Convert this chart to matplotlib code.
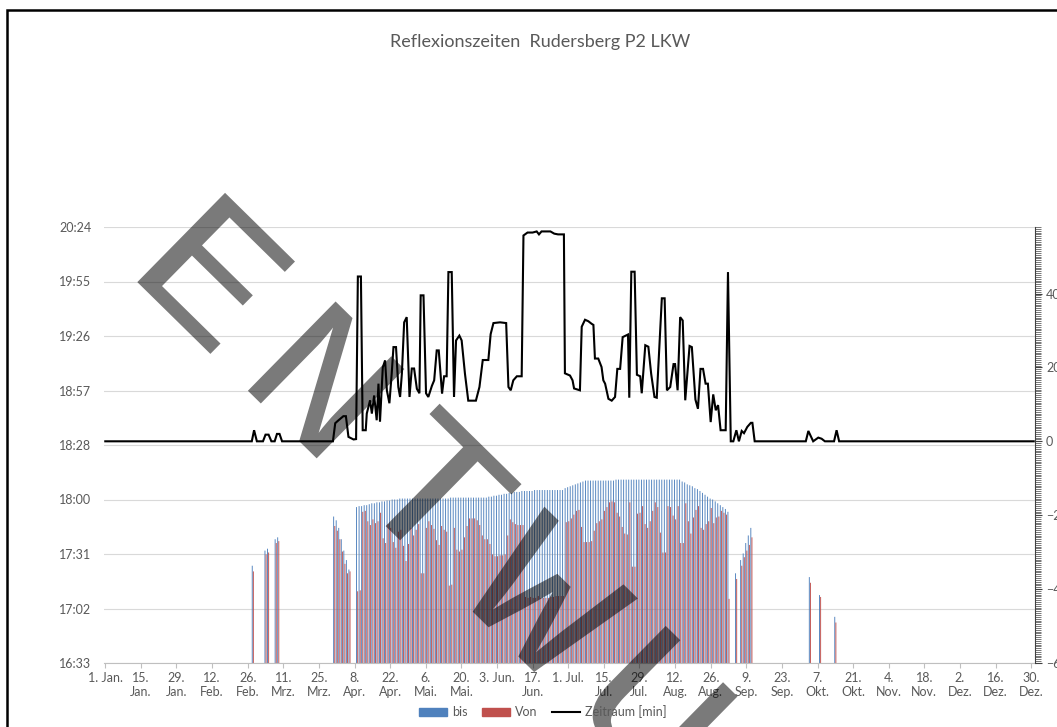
import matplotlib
matplotlib.use("Agg")
import matplotlib.pyplot as plt
from matplotlib.patches import Patch, Rectangle, PathPatch
from matplotlib.lines import Line2D
from matplotlib.textpath import TextPath
from matplotlib.font_manager import FontProperties
from matplotlib.transforms import Affine2D
from matplotlib.ticker import FixedLocator, MultipleLocator, FuncFormatter

plt.rcParams["font.family"] = ["Lato", "DejaVu Sans"]

GRAU = "#595959"
BLAU = "#4F81BD"
ROT = "#C0504D"

# Tage ab 1. Jan. (Schaltjahr) mit Reflexion
tage = ([58, 63, 64, 67, 68] + list(range(90, 97)) + list(range(99, 246))
        + [248, 250, 251, 252, 253, 254, 277, 281, 287])

# Ende der Reflexion, Minuten nach Mitternacht
bis = [
    1045, 1053, 1054, 1059, 1060,
    1071, 1069, 1065, 1059, 1053, 1048, 1043,
    1076, 1076.5, 1076.5, 1077, 1077, 1077.5, 1078, 1078, 1078.5, 1078.5,          # 99-108
    1079, 1079, 1079.5, 1079.5, 1080, 1080, 1080, 1080.5, 1080.5, 1080.5,          # 109-118
    1080.5, 1080.5, 1080.5, 1080.5, 1080.5, 1080.5, 1080.5, 1080.5, 1080.5, 1080.5,  # 119-128
    1080.5, 1080.5, 1080.5, 1080.5, 1080.5, 1080.5, 1080.5, 1081, 1081, 1081,      # 129-138
    1081, 1081, 1081, 1081, 1081, 1081, 1081, 1081, 1081, 1081,                    # 139-148
    1081, 1081, 1081.5, 1081.5, 1082, 1082, 1082.5, 1082.5, 1083, 1083,            # 149-158
    1083.5, 1083.5, 1084, 1084, 1084, 1084.5, 1084.5, 1084.5, 1084.5, 1084.5,      # 159-168
    1085, 1085, 1085, 1085, 1085, 1085, 1085, 1085, 1085, 1085,                    # 169-178
    1085, 1085, 1086, 1086.5, 1087, 1087.5, 1088, 1088.5, 1089, 1089.5,            # 179-188
    1090, 1090, 1090, 1090, 1090, 1090, 1090, 1090, 1090, 1090,                    # 189-198
    1090, 1090, 1090.5, 1090.5, 1090.5, 1090.5, 1090.5, 1090.5, 1090.5, 1090.5,    # 199-208
    1090.5, 1090.5, 1090.5, 1090.5, 1090.5, 1090.5, 1090.5, 1090.5, 1090.5, 1090.5,  # 209-218
    1090.5, 1090.5, 1090.5, 1090.5, 1090.5, 1090.5, 1090.5, 1090.5, 1089.5, 1089,  # 219-228
    1088, 1087.5, 1087, 1086, 1085.5, 1084.5, 1083.5, 1082.5, 1081.5, 1080.5,      # 229-238
    1080, 1079, 1078, 1077, 1076, 1075, 1073.5,                                    # 239-245
    1041, 1048, 1051.5, 1057, 1061, 1065, 1039, 1029.5, 1018,
]

# Beginn der Reflexion, Minuten nach Mitternacht
von = [
    1042, 1051, 1052, 1057, 1058,
    1066, 1063.5, 1059, 1052.5, 1046, 1041, 1042,
    1031.5, 1032, 1073.5, 1074, 1068.5, 1066.5, 1069.5, 1067.5, 1068.5, 1073,      # 99-108
    1059.5, 1057, 1067, 1065, 1057.5, 1054.5, 1063, 1064, 1055.5, 1047.5,          # 109-118
    1056.5, 1065, 1061, 1064, 1067, 1041, 1041, 1065, 1068.5, 1066.5,              # 119-128
    1064.5, 1058.5, 1056, 1066, 1064, 1063, 1034.5, 1035, 1065, 1053.5,            # 129-138
    1052.5, 1053.5, 1060, 1066, 1070, 1070, 1070, 1069, 1066.5, 1061,              # 139-148
    1059, 1059, 1056.5, 1051, 1050, 1050, 1050.5, 1050.5, 1051, 1061,              # 149-158
    1069.5, 1068, 1067, 1066.5, 1066.5, 1066.5, 1028.5, 1028, 1028.5, 1028,        # 159-168
    1028, 1029, 1028, 1028, 1028, 1028, 1028.5, 1028.5, 1029, 1029,                # 169-178
    1029, 1029, 1068, 1068.5, 1070, 1072, 1074, 1074.5, 1065.5, 1057.5,            # 179-188
    1057.5, 1057.5, 1058, 1063.5, 1067.5, 1068.5, 1069.5, 1074, 1076, 1078.5,      # 189-198
    1079, 1078.5, 1073, 1071, 1065.5, 1062, 1061.5, 1078.5, 1044.5, 1044.5,        # 199-208
    1072.5, 1073, 1076.5, 1067, 1065, 1068.5, 1074, 1078.5, 1076, 1062.5,          # 209-218
    1052, 1052, 1076.5, 1076, 1071.5, 1069.5, 1076.5, 1057, 1057, 1078,            # 219-228
    1068.5, 1062, 1070.5, 1074.5, 1076.5, 1065, 1064, 1067, 1068.5, 1075.5,        # 229-238
    1067.5, 1070.5, 1071, 1074, 1073, 1072, 1027.5,                                # 239-245
    1038, 1045, 1049.5, 1053, 1056, 1060, 1036, 1028.5, 1015,
]

# Zeitraum [min] als Linienzug (Tag, Minuten)
zr_tag = [0, 57.6, 58.5, 59.6, 62, 63, 64.2, 65.3, 66.6, 67.5, 68.5, 69.5, 89.5,
          90.4, 91.7, 93.6, 94.6, 95.6, 97.6, 98.6, 99.3, 100.5, 101.2, 102.4,
          102.8, 104.1, 104.8, 105.7, 106.7, 107.4, 108, 109.1, 110, 110.7, 111.7,
          112.6, 113.3, 114.3, 115.2, 115.9, 116.6, 117.5, 118.5, 119.6, 120.5,
          121.4, 122.5, 123.5, 124, 125.1, 126.1, 127, 128.4, 129.3, 130.3, 131.1,
          131.9, 132.4, 133.2, 134.2, 134.9, 136.2, 137.1, 137.9, 139.2, 140.1,
          141.4, 142.7, 145.7, 147.1, 148.4, 150.6, 151.5, 152.6, 155.2, 157.6,
          158.5, 159.4, 160.4, 161.8, 163.7, 164.4, 166, 168, 169.6, 170.5, 171.5,
          175, 176.5, 178, 180.3, 180.7, 182.7, 183.7, 184.3, 186.6, 187.3, 188.6,
          189.9, 191.2, 191.9, 192.5, 193.8, 195.1, 195.8, 196.5, 197.8, 199.1,
          200.4, 201.3, 202.4, 203.4, 205.5, 206, 206.8, 208.1, 209, 210.3, 210.9,
          212.3, 213.5, 214.6, 215.9, 216.8, 218.8, 219.9, 220.8, 222.1, 223.4, 224,
          225, 226, 227, 228, 229.7, 230.6, 232, 233, 234, 235, 236, 236.9, 238,
          239, 240, 240.9, 241.9, 243.9, 244.8, 245.9, 246.9, 248.1, 249.1, 250.2,
          251.1, 252.4, 253.8, 254.4, 255.3, 275.4, 276.4, 278.3, 280.3, 281.6,
          282.9, 286.5, 287.5, 288.5, 365]
zr_min = [0, 0, 3, 0, 0, 1.8, 1.8, 0, 0, 2, 2, 0, 0,
          4.9, 5.7, 6.8, 6.8, 1.2, 0.5, 0.6, 44.6, 44.6, 3, 3,
          7.5, 11.1, 7.5, 12.4, 5.7, 15.6, 5.3, 20, 21.9, 13.8, 10.3,
          18.3, 25.5, 25.5, 14.7, 12, 18.3, 32.2, 33.6, 12, 19.7,
          19.7, 14.2, 13, 39.5, 39.5, 13, 12, 15, 16.5, 24.6, 24.6,
          17.4, 12.9, 17.6, 17.6, 45.8, 45.8, 12, 27.3, 28.6, 27.3,
          18.3, 11, 11, 14.7, 22, 22, 29, 32, 32.2, 32,
          14.7, 13.8, 16.5, 17.6, 17.6, 55.7, 56.5, 56.5, 56.8, 56, 56.8,
          56.8, 56.2, 56, 56, 18.4, 17.8, 16.5, 14.3, 13.8, 31, 32.9,
          32.5, 31.8, 31.5, 22.4, 22.4, 20.1, 16.5, 15.6, 11.5, 11,
          12, 19.6, 19.6, 28.2, 28.9, 11.8, 45.9, 45.9, 18, 17.6, 13,
          26, 25.6, 18.3, 12, 11.8, 38.7, 38.7, 13.8, 14.7, 20.9, 20.9,
          13.8, 33.6, 32.7, 11.1, 25.8, 25.5, 11.3, 8.8, 19.6, 19.6, 15.6, 15.6, 5.2,
          12.7, 8.4, 9.8, 3, 3, 45.8, 0, 0, 3, 0, 2.8,
          2.2, 3.9, 5, 5, 0, 0, 2.8, 0, 1, 0.7,
          0, 0, 3, 0, 0]

x_ticks = list(range(0, 365, 14))
x_labels = ["1. Jan.", "15.\nJan.", "29.\nJan.", "12.\nFeb.", "26.\nFeb.", "11.\nMrz.",
            "25.\nMrz.", "8.\nApr.", "22.\nApr.", "6.\nMai.", "20.\nMai.", "3. Jun.",
            "17.\nJun.", "1. Jul.", "15.\nJul.", "29.\nJul.", "12.\nAug.", "26.\nAug.",
            "9.\nSep.", "23.\nSep.", "7.\nOkt.", "21.\nOkt.", "4.\nNov.", "18.\nNov.",
            "2.\nDez.", "16.\nDez.", "30.\nDez."]
y_ticks = [993.6, 1022.4, 1051.2, 1080.0, 1108.8, 1137.6, 1166.4, 1195.2, 1224.0]
y2_ticks = [-60, -40, -20, 0, 20, 40]

W, H = 1057, 727
fig = plt.figure(figsize=(W / 100, H / 100), dpi=100)
ax = fig.add_axes([104 / W, 1 - 663 / H, 931 / W, 436 / H])

ax.bar([t - 0.22 for t in tage], bis, width=0.36, color=BLAU, linewidth=0, snap=False)
ax.bar([t + 0.22 for t in tage], von, width=0.36, color=ROT, linewidth=0, snap=False)
ax.set_xlim(-0.5, 365.5)
ax.set_ylim(y_ticks[0], y_ticks[-1])
ax.yaxis.set_major_locator(FixedLocator(y_ticks))
ax.yaxis.set_major_formatter(FuncFormatter(
    lambda v, p: "%d:%02d" % (int(v + 1e-6) // 60, int(v + 1e-6) % 60)))
ax.grid(axis="y", color="#D9D9D9", lw=0.8)
ax.set_axisbelow(True)
ax.set_xticks(x_ticks)
ax.set_xticklabels(x_labels)
for s in ["top", "left", "right"]:
    ax.spines[s].set_visible(False)
ax.spines["bottom"].set_color("#BFBFBF")
ax.tick_params(axis="y", length=0, pad=9, labelsize=9, labelcolor=GRAU)
ax.tick_params(axis="x", length=3.5, color="#BFBFBF", pad=3, labelsize=9, labelcolor=GRAU)

ax2 = ax.twinx()
ax2.plot(zr_tag, zr_min, color="black", lw=1.5, solid_joinstyle="miter", zorder=3)
ax2.set_ylim(-60, 58)
ax2.set_yticks(y2_ticks)
ax2.yaxis.set_minor_locator(MultipleLocator(0.5))
for s in ["top", "left", "bottom"]:
    ax2.spines[s].set_visible(False)
ax2.spines["right"].set_color("#404040")
ax2.tick_params(axis="y", which="major", length=5, color="#404040", pad=3,
                labelsize=9, labelcolor=GRAU)
ax2.tick_params(axis="y", which="minor", length=4, width=0.5, color="#404040")

# Wasserzeichen: Einzelbuchstaben in Festbreitenschrift, schräg, unter der Linie
wz_font = FontProperties(family="Liberation Mono")
for i, ch in enumerate("ENTWURF"):
    glyph = TextPath((0, 0), ch, size=190, prop=wz_font)
    tr = (Affine2D().scale(1.15, 1).translate(i * 155, 0)
          .rotate_deg(-44.5).translate(125, H - 270))
    ax2.add_artist(PathPatch(glyph, transform=tr, facecolor="black", edgecolor="none",
                             alpha=0.52, clip_on=False, zorder=2))

fig.text(540 / W, 1 - 42 / H, "Reflexionszeiten  Rudersberg P2 LKW",
         ha="center", va="center", fontsize=13, color=GRAU)

handles = [Patch(color=BLAU), Patch(color=ROT), Line2D([], [], color="black", lw=1.5)]
leg = fig.legend(handles, ["bis", "Von", "Zeitraum [min]"], loc="center",
                 bbox_to_anchor=(543 / W, 1 - 712 / H), ncol=3, frameon=False,
                 fontsize=9, handlelength=2.2, handleheight=0.5,
                 handletextpad=0.4, columnspacing=1.2)
for t in leg.get_texts():
    t.set_color(GRAU)

# Rahmen des Diagrammbereichs
fig.add_artist(Rectangle((7 / W, -0.1), 1.2, 1.1 - 10 / H, transform=fig.transFigure,
                         fill=False, edgecolor="black", lw=1.8))

fig.savefig("out.png", dpi=100)
